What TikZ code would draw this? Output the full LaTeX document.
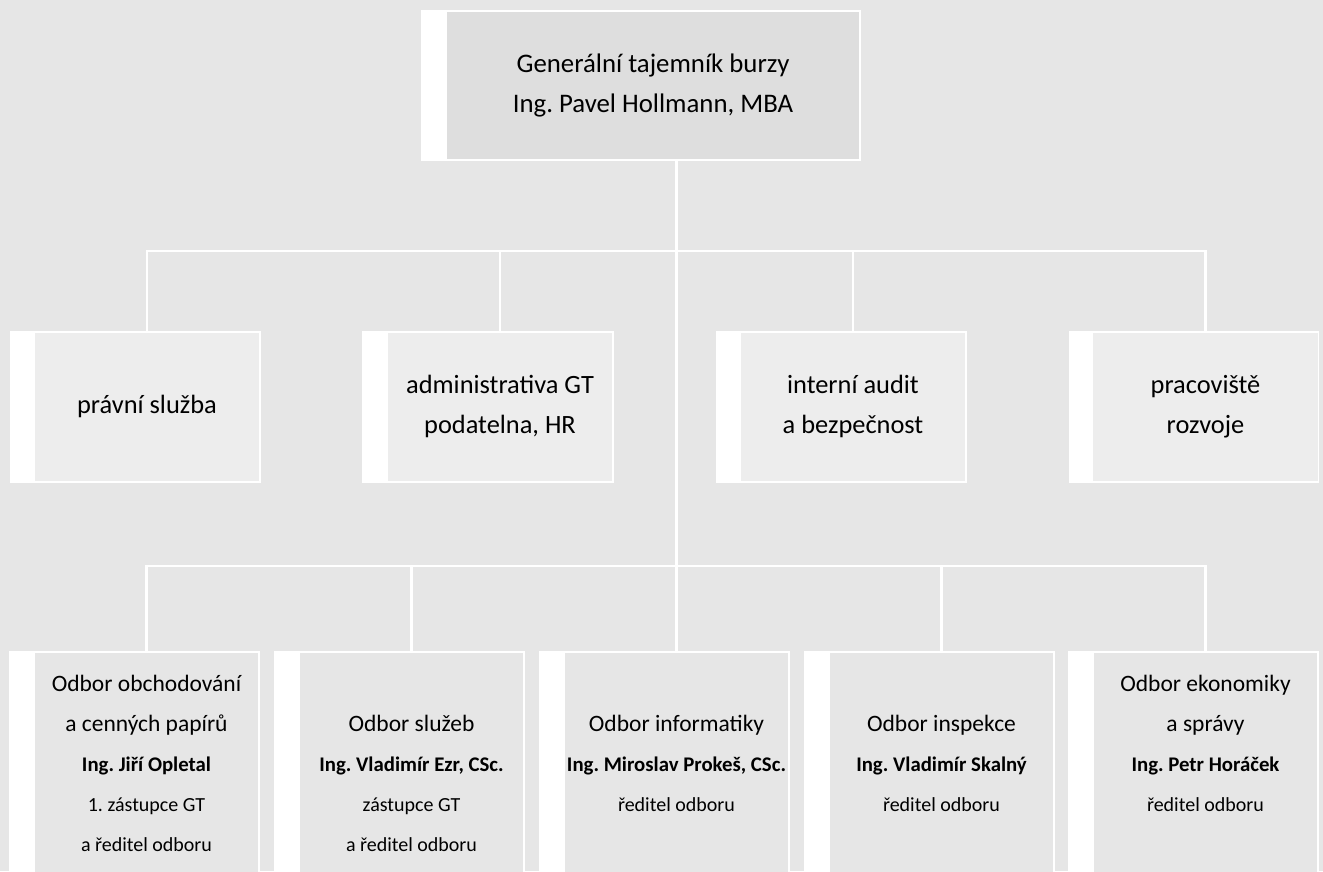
\documentclass[tikz,border=0pt]{standalone}
\usepackage{fontspec}
\setmainfont{Carlito}
\frenchspacing
\definecolor{bg}{HTML}{E6E6E6}
\definecolor{topfill}{HTML}{DEDEDE}
\definecolor{midfill}{HTML}{EDEDED}
\definecolor{lowfill}{HTML}{E6E6E6}
\tikzset{
  conn/.style={draw=white, line width=2.5pt},
  boxcore/.style={draw=white, line width=1.2pt, inner sep=0pt, outer sep=0pt, rectangle},
  topbox/.style={boxcore, fill=topfill, minimum width=414pt, minimum height=149pt},
  midbox/.style={boxcore, fill=midfill, minimum width=226pt, minimum height=150pt},
  lowbox/.style={boxcore, fill=lowfill, minimum width=225pt, minimum height=260pt},
  stripbar/.style={fill=white},
  toptxt/.style={anchor=base, inner sep=0pt, font=\fontsize{26.8}{30}\selectfont},
  midtxt/.style={anchor=base, inner sep=0pt, font=\fontsize{26.4}{30}\selectfont},
  lowtxt/.style={anchor=base, inner sep=0pt, font=\fontsize{23.5}{27}\selectfont},
  lowname/.style={anchor=base, inner sep=0pt, font=\fontsize{20.8}{24}\selectfont\bfseries},
  lowsmall/.style={anchor=base, inner sep=0pt, font=\fontsize{20}{24}\selectfont},
}
\begin{document}
\begin{tikzpicture}[x=1pt,y=-1pt]
\useasboundingbox (0,0) rectangle (1323,871);
\clip (0,0) rectangle (1323,871);
\fill[bg] (0,0) rectangle (1323,871);

% top box
\fill[stripbar] (421.5,10.5) rectangle (446,160.5);
\node[topbox] (gt) at (653,85.5) {};
\draw[white, line width=1.2pt] (421.5,10.5) rectangle (446,160.5);

% middle boxes
\foreach \l/\c in {11/147, 363/500, 717/853, 1070/1205.5}{
  \fill[stripbar] (\l,332) rectangle (\c-113,482);
  \draw[white, line width=1.2pt] (\l,332) rectangle (\c-113,482);
}
\node[midbox] (m1) at (147,407) {};
\node[midbox] (m2) at (500,407) {};
\node[midbox] (m3) at (853,407) {};
\node[midbox] (m4) at (1205.5,407) {};

% bottom boxes
\foreach \l/\c in {10/146.5, 275/411.5, 540/676.5, 805/941.5, 1069/1205.5}{
  \fill[stripbar] (\l,652) rectangle (\c-112.5,912);
  \draw[white, line width=1.2pt] (\l,652) rectangle (\c-112.5,912);
}
\node[lowbox] (o1) at (146.5,782) {};
\node[lowbox] (o2) at (411.5,782) {};
\node[lowbox] (o3) at (676.5,782) {};
\node[lowbox] (o4) at (941.5,782) {};
\node[lowbox] (o5) at (1205.5,782) {};

% connectors
\coordinate (j1) at (676.5,251);
\coordinate (j2) at (676.5,566);
\draw[conn] (gt.south -| j2) -- (o3.north);
\draw[conn] (m1.north) -- (m1.north |- j1) -- (m4.north |- j1) -- (m4.north);
\draw[conn] (m2.north) -- (m2.north |- j1);
\draw[conn] (m3.north) -- (m3.north |- j1);
\draw[conn] (o1.north) -- (o1.north |- j2) -- (o5.north |- j2) -- (o5.north);
\draw[conn] (o2.north) -- (o2.north |- j2);
\draw[conn] (o4.north) -- (o4.north |- j2);

% texts
\node[toptxt] (gt1) at (653,72) {Generální tajemník burzy};
\node[toptxt] (gt2) at (653,112) {Ing. Pavel Hollmann, MBA};

\node[midtxt] (m1a) at (147,413) {právní služba};
\node[midtxt] (m2a) at (500,393) {administrativa GT};
\node[midtxt] (m2b) at (500,433) {podatelna, HR};
\node[midtxt] (m3a) at (853,393) {interní audit};
\node[midtxt] (m3b) at (853,433) {a bezpečnost};
\node[midtxt] (m4a) at (1205.5,393) {pracoviště};
\node[midtxt] (m4b) at (1205.5,433) {rozvoje};

\node[lowtxt] (o1a) at (146.5,691) {Odbor obchodování};
\node[lowtxt] (o1b) at (146.5,731) {a cenných papírů};
\node[lowname] (o1c) at (146.5,771) {Ing. Jiří Opletal};
\node[lowsmall] (o1d) at (146.5,811) {1. zástupce GT};
\node[lowsmall] (o1e) at (146.5,851) {a ředitel odboru};

\node[lowtxt] (o2a) at (411.5,731) {Odbor služeb};
\node[lowname] (o2b) at (411.5,771) {Ing. Vladimír Ezr, CSc.};
\node[lowsmall] (o2c) at (411.5,811) {zástupce GT};
\node[lowsmall] (o2d) at (411.5,851) {a ředitel odboru};

\node[lowtxt] (o3a) at (676.5,731) {Odbor informatiky};
\node[lowname] (o3b) at (676.5,771) {Ing. Miroslav Prokeš, CSc.};
\node[lowsmall] (o3c) at (676.5,811) {ředitel odboru};

\node[lowtxt] (o4a) at (941.5,731) {Odbor inspekce};
\node[lowname] (o4b) at (941.5,771) {Ing. Vladimír Skalný};
\node[lowsmall] (o4c) at (941.5,811) {ředitel odboru};

\node[lowtxt] (o5a) at (1205.5,691) {Odbor ekonomiky};
\node[lowtxt] (o5b) at (1205.5,731) {a správy};
\node[lowname] (o5c) at (1205.5,771) {Ing. Petr Horáček};
\node[lowsmall] (o5d) at (1205.5,811) {ředitel odboru};
\end{tikzpicture}
\end{document}
